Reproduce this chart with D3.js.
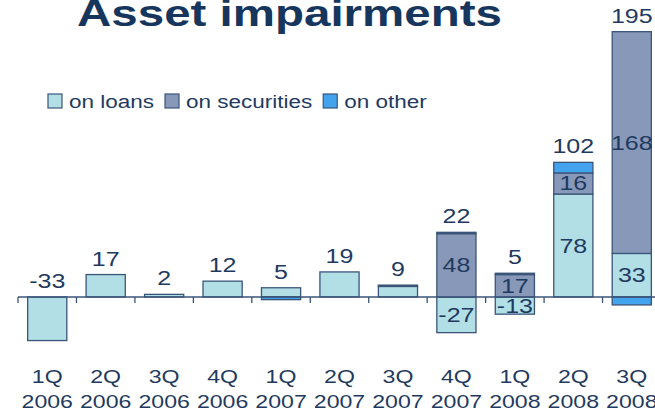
<!DOCTYPE html>
<html>
<head>
<meta charset="utf-8">
<script src="https://cdn.jsdelivr.net/npm/d3@7"></script>
<style>
  html, body { margin: 0; padding: 0; background: #ffffff; }
  svg { display: block; font-family: "Liberation Sans", Arial, sans-serif; }
</style>
</head>
<body>
<svg id="chart" width="655" height="415"></svg>
<script>
// Quarterly asset impairments, split by source
const quarters = ["1Q", "2Q", "3Q", "4Q", "1Q", "2Q", "3Q", "4Q", "1Q", "2Q", "3Q"];
const years = ["2006", "2006", "2006", "2006", "2007", "2007", "2007", "2007", "2008", "2008", "2008"];
const onLoans = [-33, 17, 2, 12, 7, 19, 8, -27, -13, 78, 33];
const onSecurities = [0, 0, 0, 0, 0, 0, 0, 48, 17, 16, 168];
const onOther = [0, 0, 0, 0, -2, 0, 1, 1, 1, 8, -6];
const seriesNames = ["on loans", "on securities", "on other"];

const colors = { "on loans": "#b1dfe5", "on securities": "#8898b9", "on other": "#43a3ec" };
const edge = "#3b5579";
const ink = "#1f3a60";
const stretch = 1.25;   // glyphs are drawn wide

const rows = quarters.map((q, i) => ({
  key: q + " " + years[i], q, year: years[i],
  "on loans": onLoans[i], "on securities": onSecurities[i], "on other": onOther[i]
}));

const svg = d3.select("#chart");

const x = d3.scaleBand()
  .domain(rows.map(d => d.key))
  .range([18, 661])
  .paddingInner(0.33)
  .paddingOuter(0.165);

const y = d3.scaleLinear().domain([-50, 200]).range([363, 33]);

const stack = d3.stack().keys(seriesNames).offset(d3.stackOffsetDiverging);
const layers = stack(rows);

// stacked segments
const g = svg.append("g");
layers.forEach(layer => {
  g.selectAll(null)
    .data(layer.filter(s => s[1] !== s[0]))
    .join("rect")
    .attr("x", s => x(s.data.key))
    .attr("width", x.bandwidth())
    .attr("y", s => y(Math.max(s[0], s[1])))
    .attr("height", s => Math.abs(y(s[0]) - y(s[1])))
    .attr("fill", colors[layer.key])
    .attr("stroke", edge)
    .attr("stroke-width", 1.3);
});

// stretched text helper
function label(sel, x0, y0, txt, size, opts = {}) {
  return sel.append("text")
    .attr("transform", `translate(${x0},${y0}) scale(${opts.sx || stretch},1)`)
    .attr("text-anchor", opts.anchor || "middle")
    .attr("font-size", size)
    .attr("font-weight", opts.weight || "normal")
    .attr("fill", ink)
    .text(txt);
}

// values inside the stacked bars (quarters with securities impairments)
const lbl = svg.append("g");
layers.slice(0, 2).forEach(layer => {
  layer.forEach(s => {
    if (s.data["on securities"] === 0 || s[0] === s[1]) return;
    const cx = x(s.data.key) + x.bandwidth() / 2;
    const cy = (y(s[0]) + y(s[1])) / 2 + 7;
    label(lbl, cx, cy, s.data[layer.key], 20);
  });
});

// totals above each bar
rows.forEach(d => {
  const vals = seriesNames.map(k => d[k]);
  const total = d3.sum(vals);
  const posTop = d3.sum(vals.filter(v => v > 0));
  const cx = x(d.key) + x.bandwidth() / 2;
  label(lbl, cx, y(posTop) - 9, total, 20);
});

// zero line with ticks at band boundaries
const zero = y(0);
const axis = svg.append("g");
axis.append("line")
  .attr("x1", x.range()[0]).attr("x2", 655)
  .attr("y1", zero).attr("y2", zero)
  .attr("stroke", edge).attr("stroke-width", 1.3);
const halfGap = (x.step() - x.bandwidth()) / 2;
axis.selectAll(null)
  .data(rows)
  .join("line")
  .attr("x1", d => x(d.key) - halfGap)
  .attr("x2", d => x(d.key) - halfGap)
  .attr("y1", zero).attr("y2", zero + 6)
  .attr("stroke", edge).attr("stroke-width", 1.3);

// category labels, two lines
rows.forEach(d => {
  const cx = x(d.key) + x.bandwidth() / 2;
  label(axis, cx, 383, d.q, 18.5);
  label(axis, cx, 408, d.year, 18.5);
});

// title
svg.append("text")
  .attr("x", 289.5).attr("y", 26)
  .attr("text-anchor", "middle")
  .attr("font-size", 37)
  .attr("font-weight", "bold")
  .attr("fill", "#17365d")
  .attr("textLength", 425)
  .attr("lengthAdjust", "spacingAndGlyphs")
  .text("Asset impairments");

// legend
const legend = svg.append("g");
let lx = 48;
seriesNames.forEach(name => {
  legend.append("rect")
    .attr("x", lx).attr("y", 94)
    .attr("width", 14).attr("height", 14)
    .attr("fill", colors[name])
    .attr("stroke", edge).attr("stroke-width", 1.2);
  const t = label(legend, lx + 21, 108, name, 18, { anchor: "start" });
  lx += 21 + t.node().getComputedTextLength() * stretch + 11;
});
</script>
</body>
</html>
